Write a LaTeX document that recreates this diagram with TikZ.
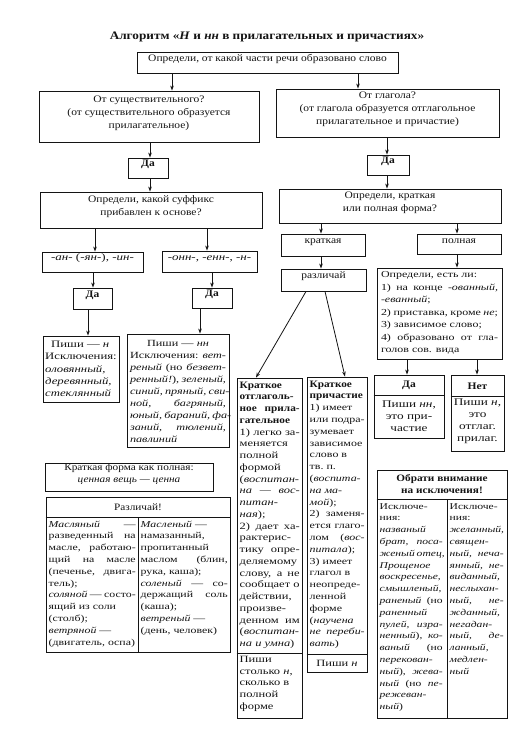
\documentclass[tikz,border=0pt]{standalone}
\usepackage{fontspec}
\setmainfont{Liberation Serif}[FakeStretch=1.15]
\newfontfamily\wide{Liberation Serif}[FakeStretch=1.3]
\usetikzlibrary{arrows.meta,fit}
\definecolor{ink}{HTML}{141414}
\hbadness=10000
\hfuzz=20pt
\setlength{\parindent}{0pt}
\newdimen\cw
\newcommand\J[1]{\makebox[\cw][s]{#1}}
\newcommand\hd[1]{{\rmfamily\bfseries\fontsize{9.8}{11.8}\selectfont #1}}
\newcommand\mainsz{\fontsize{10}{13}\selectfont}
\newcommand\midsz{\fontsize{9.8}{12}\selectfont}
\tikzset{
  bx/.style={draw=ink, line width=0.9pt, inner sep=0pt, align=center, font=\mainsz},
  arr/.style={draw=ink, line width=0.8pt, -{Stealth[length=5pt,width=3.6pt]}},
  ln/.style={draw=ink, line width=0.9pt},
  blk/.style={inner sep=0pt, align=left},
}
\begin{document}
\begin{tikzpicture}[x=1pt,y=-1pt, every node/.append style={text=ink}]
\useasboundingbox[fill=white] (0,0) rectangle (529,738);

% title
\node[font=\bfseries\fontsize{11.5}{14}\selectfont] (title) at (267,37)
  {Алгоритм «\textit{Н} и \textit{нн} в прилагательных и причастиях»};

% main flow boxes
\node[bx, fit={(137,52) (398,73)}] (q0) {Определи, от какой части речи образовано слово};
\node[bx, fit={(39,91) (259,142)}] (noun) {От существительного?\\(от существительного образуется\\прилагательное)};
\node[bx, fit={(276,89) (499,137)}] (verb) {От глагола?\\(от глагола образуется отглагольное\\прилагательное и причастие)};
\node[bx, fit={(128,158) (168,178)}, font=\bfseries\mainsz] (da1) {Да};
\node[bx, fit={(367,155) (409,175)}, font=\bfseries\mainsz] (da2) {Да};
\node[bx, fit={(40,192) (262,228)}] (suf) {Определи, какой суффикс\\прибавлен к основе?};
\node[bx, fit={(279,189) (501,223)}] (form) {Определи, краткая\\или полная форма?};
\node[bx, fit={(42,252) (143,272)}, font=\wide\fontsize{10}{12}\selectfont] (an) {\textit{-ан-} (\textit{-ян-}), \textit{-ин-}};
\node[bx, fit={(162,251) (257,272)}, font=\wide\fontsize{10}{12}\selectfont] (onn) {\textit{-онн-}, \textit{-енн-}, \textit{-н-}};
\node[bx, fit={(73,288) (112,309)}, font=\bfseries\mainsz] (da3) {Да};
\node[bx, fit={(192,288) (232,308)}, font=\bfseries\mainsz] (da4) {Да};

\node[bx, fit={(43,336) (119,402)}] (pn) {};
\node[blk, font={\wide\fontsize{9.8}{12.3}\selectfont\cw=70pt}] (pnt) at (81,369)
  {\makebox[\cw]{Пиши — \textit{н}}\\Исключения:\\\textit{оловянный,}\\\textit{деревянный,}\\\textit{стеклянный}};
\node[bx, fit={(127,334) (229,447)}] (pnn) {};
\node[blk, font={\wide\fontsize{9.4}{11.9}\selectfont\cw=96pt}] (pnnt) at (178,391.5)
  {\makebox[\cw]{Пиши — \textit{нн}}\\\J{Исключения: \textit{вет-}}\\\J{\textit{реный} (но \textit{безвет-}}\\\J{\textit{ренный!}), \textit{зеленый,}}\\\J{\textit{синий, пряный, сви-}}\\\J{\textit{ной, багряный,}}\\\J{\textit{юный, бараний, фа-}}\\\J{\textit{заний, тюлений,}}\\\textit{павлиний}};

\node[bx, fit={(281,234) (365,256)}] (krat) {краткая};
\node[bx, fit={(417,234) (501,254)}] (poln) {полная};
\node[bx, fit={(281,269) (366,291)}] (razl) {различай};
\node[bx, fit={(377,268) (502,359)}] (ask) {};
\node[blk, font={\wide\fontsize{9.2}{12.5}\selectfont\cw=117pt}] (askt) at (439.5,313)
  {Определи, есть ли:\\\J{1) на конце \textit{-ованный,}}\\\textit{-еванный};\\\J{2) приставка, кроме \textit{не};}\\3) зависимое слово;\\\J{4) образовано от гла-}\\голов сов. вида};

% Да / Нет tables
\node[bx, fit={(374,375) (444,438)}] (tda) {};
\coordinate (y395) at (0,395);
\draw[ln] (tda.west |- y395) -- (tda.east |- y395);
\node[font=\bfseries\mainsz] (tdah) at (409,385.5) {Да};
\node[align=center, font=\wide\fontsize{10.2}{12.2}\selectfont, inner sep=0pt] (tdab) at (409,416) {Пиши \textit{нн},\\это при-\\частие};

\node[bx, fit={(451,375) (504,451)}] (tnet) {};
\coordinate (y396) at (0,396);
\draw[ln] (tnet.west |- y396) -- (tnet.east |- y396);
\node[font=\bfseries\mainsz] (tneth) at (477.5,386) {Нет};
\node[align=center, font=\wide\fontsize{10.2}{12}\selectfont, inner sep=0pt] (tnetb) at (477.5,421.5) {Пиши \textit{н},\\это\\отглаг.\\прилаг.};

% short adjective / participle columns
\node[bx, fit={(237,378) (302,718)}] (ko) {};
\coordinate (y653) at (0,653);
\draw[ln] (ko.west |- y653) -- (ko.east |- y653);
\node[blk, anchor=north west, font={\wide\fontsize{9.6}{11.75}\selectfont\cw=60pt}] (kot) at (239.5,381.5)
  {\hd{Краткое}\\\hd{отглаголь-}\\\J{\hd{ное прила-}}\\\hd{гательное}\\\J{1) легко за-}\\меняется\\полной\\формой\\(\textit{воспитан-}\\\J{\textit{на — вос-}}\\\textit{питан-}\\\textit{ная});\\\J{2) дает ха-}\\рактерис-\\\J{тику опре-}\\деляемому\\\J{слову, а не}\\\J{сообщает о}\\действии,\\произве-\\\J{денном им}\\(\textit{воспитан-}\\\textit{на и умна})};
\node[blk, anchor=north west, font={\wide\fontsize{9.6}{11.75}\selectfont}] (kob) at (239.5,656)
  {Пиши\\столько \textit{н},\\сколько в\\полной\\форме};

\node[bx, fit={(307,377) (367,672)}] (kp) {};
\coordinate (y654) at (0,654);
\draw[ln] (kp.west |- y654) -- (kp.east |- y654);
\node[blk, anchor=north west, font={\wide\fontsize{9.2}{11.8}\selectfont\cw=55pt}] (kpt) at (309.5,380.5)
  {\hd{Краткое}\\\hd{причастие}\\1) имеет\\\J{или подра-}\\зумевает\\зависимое\\слово в\\тв.~п.\\(\textit{воспита-}\\\textit{на ма-}\\\textit{мой});\\\J{2) заменя-}\\\J{ется глаго-}\\\J{лом (\textit{вос-}}\\\textit{питала});\\3) имеет\\глагол в\\неопреде-\\ленной\\форме\\(\textit{научена}\\\J{\textit{не переби-}}\\\textit{вать})};
\node[font=\wide\fontsize{9.6}{11.8}\selectfont, inner sep=0pt] (kpb) at (337,663) {Пиши \textit{н}};

% exceptions table
\node[bx, fit={(377,470) (507,718)}] (obr) {};
\coordinate (y499) at (0,499);
\coordinate (x447) at (447,0);
\draw[ln] (obr.west |- y499) -- (obr.east |- y499);
\draw[ln] (x447 |- y499) -- (x447 |- obr.south);
\node[align=center, font=\bfseries\midsz, inner sep=0pt] (obrh) at (442,484.5) {Обрати внимание\\на исключения!};
\node[blk, anchor=north west, font={\wide\fontsize{8.9}{11.8}\selectfont\cw=63pt}] (obrl) at (379.5,503)
  {Исключе-\\ния:\\\textit{названый}\\\J{\textit{брат, поса-}}\\\J{\textit{женый отец,}}\\\textit{Прощеное}\\\textit{воскресенье,}\\\textit{смышленый,}\\\J{\textit{раненый} (но}\\\textit{раненный}\\\J{\textit{пулей, изра-}}\\\J{\textit{ненный}), \textit{ко-}}\\\J{\textit{ваный} (но}\\\textit{перекован-}\\\J{\textit{ный}), \textit{жева-}}\\\J{\textit{ный} (но \textit{пе-}}\\\textit{режеван-}\\\textit{ный})};
\node[blk, anchor=north west, font={\wide\fontsize{8.9}{11.8}\selectfont\cw=54pt}] (obrr) at (449.5,503)
  {Исключе-\\ния:\\\textit{желанный,}\\\textit{священ-}\\\J{\textit{ный, неча-}}\\\J{\textit{янный, не-}}\\\textit{виданный,}\\\textit{неслыхан-}\\\J{\textit{ный, не-}}\\\textit{жданный,}\\\textit{негадан-}\\\J{\textit{ный, де-}}\\\textit{ланный,}\\\textit{медлен-}\\\textit{ный}};

% left bottom boxes
\node[bx, fit={(45,463) (213,491)}, font=\midsz] (kf) {Краткая форма как полная:\\\textit{ценная вещь — ценна}};

\node[bx, fit={(46,497) (230,652)}] (rz) {};
\coordinate (y517) at (0,517);
\coordinate (x138) at (138,0);
\draw[ln] (rz.west |- y517) -- (rz.east |- y517);
\draw[ln] (x138 |- y517) -- (x138 |- rz.south);
\node[font=\midsz] (rzh) at (138,507) {Различай!};
\node[blk, anchor=north west, font={\wide\fontsize{9.1}{11.8}\selectfont\cw=87pt}] (rzl) at (48.5,520.5)
  {\J{\textit{Масляный} —}\\\J{разведенный на}\\\J{масле, работаю-}\\\J{щий на масле}\\\J{(печенье, двига-}\\тель);\\\J{\textit{соляной} — состо-}\\ящий из соли\\(столб);\\\textit{ветряной} —\\(двигатель, оспа)};
\node[blk, anchor=north west, font={\wide\fontsize{9.1}{11.8}\selectfont\cw=87pt}] (rzr) at (140.5,520.5)
  {\textit{Масленый} —\\намазанный,\\пропитанный\\\J{маслом (блин,}\\рука, каша);\\\J{\textit{соленый} — со-}\\\J{держащий соль}\\(каша);\\\textit{ветреный} —\\(день, человек)};

% connectors
\coordinate (x172) at (172,0);
\coordinate (x358) at (358,0);
\coordinate (x150) at (150,0);
\coordinate (x387) at (387,0);
\coordinate (x96) at (95,0);
\coordinate (x207) at (207,0);
\coordinate (x93) at (93,0);
\coordinate (x212) at (212,0);
\coordinate (x88) at (88,0);
\coordinate (x200) at (200,0);
\coordinate (x321) at (321,0);
\coordinate (x457) at (457,0);
\coordinate (x306) at (306,0);
\coordinate (x325) at (325,0);
\coordinate (x256) at (256,0);
\coordinate (x345) at (345,0);
\coordinate (x407) at (407,0);
\coordinate (x477) at (477,0);

\draw[arr] (q0.south -| x172) -- (noun.north -| x172);
\draw[arr] (q0.south -| x358) -- (verb.north -| x358);
\draw[arr] (noun.south -| x150) -- (da1.north -| x150);
\draw[arr] (da1.south -| x150) -- (suf.north -| x150);
\draw[arr] (verb.south -| x387) -- (da2.north -| x387);
\draw[arr] (da2.south -| x387) -- (form.north -| x387);
\draw[arr] (suf.south -| x96) -- (an.north -| x96);
\draw[arr] (suf.south -| x207) -- (onn.north -| x207);
\draw[arr] (an.south -| x93) -- (da3.north -| x93);
\draw[arr] (onn.south -| x212) -- (da4.north -| x212);
\draw[arr] (da3.south -| x88) -- (pn.north -| x88);
\draw[arr] (da4.south -| x200) -- (pnn.north -| x200);
\draw[arr] (form.south -| x321) -- (krat.north -| x321);
\draw[arr] (form.south -| x457) -- (poln.north -| x457);
\draw[arr] (krat.south -| x321) -- (razl.north -| x321);
\draw[arr] (poln.south -| x457) -- (ask.north -| x457);
\draw[arr] (razl.south -| x306) -- (ko.north -| x256);
\draw[arr] (razl.south -| x325) -- (kp.north -| x345);
\draw[arr] (ask.south -| x407) -- (tda.north -| x407);
\draw[arr] (ask.south -| x477) -- (tnet.north -| x477);
\end{tikzpicture}
\end{document}
